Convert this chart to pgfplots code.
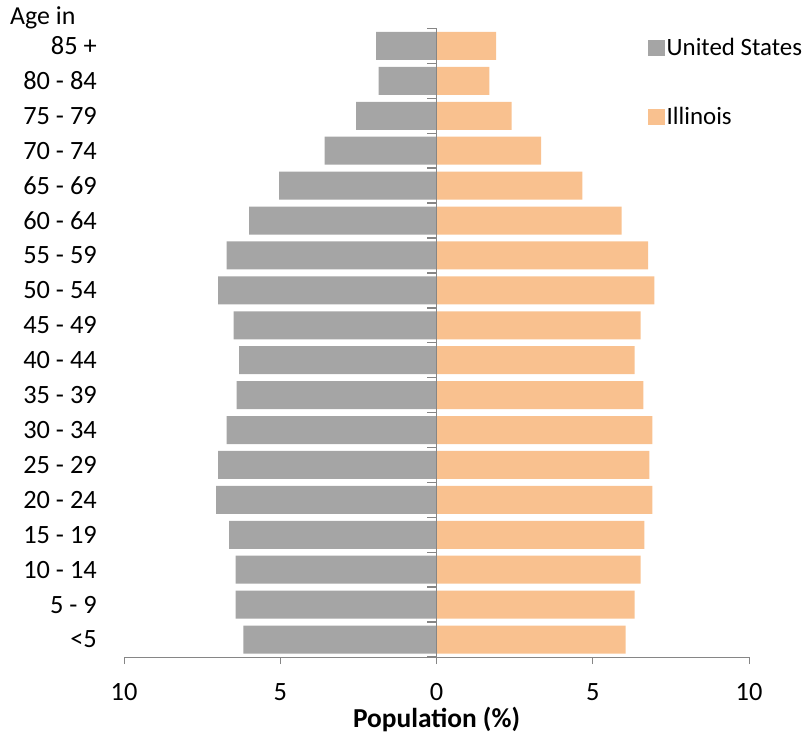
\documentclass[border=0pt]{standalone}
\usepackage{pgfplots}
\usepackage{pgfplotstable}
\pgfplotsset{compat=1.18}
\usepackage{fontspec}
\setmainfont{Carlito}
\definecolor{usgray}{HTML}{A5A5A5}
\definecolor{ilorange}{HTML}{F9C18F}
\definecolor{axgray}{HTML}{868686}
\pgfplotstableread{
y us il
0 -6.18 6.05
1 -6.43 6.34
2 -6.43 6.53
3 -6.64 6.65
4 -7.05 6.91
5 -6.99 6.81
6 -6.72 6.91
7 -6.40 6.62
8 -6.32 6.34
9 -6.49 6.53
10 -6.99 6.97
11 -6.72 6.77
12 -6.00 5.92
13 -5.04 4.67
14 -3.58 3.35
15 -2.57 2.40
16 -1.85 1.69
17 -1.93 1.91
}\datatable
\begin{document}
\begin{tikzpicture}
\path (0,0) rectangle (811bp,735bp);
\begin{axis}[
  at={(124bp,78bp)}, anchor=south west,
  scale only axis, width=625bp, height=628.5bp,
  xmin=-10, xmax=10, ymin=-0.5, ymax=17.5,
  axis x line*=bottom, axis y line*=left,
  axis line style={-},
  y axis line style={draw=none},
  x axis line style={draw=axgray, line width=1bp},
  xtick={-10,-5,0,5,10}, xticklabels={10,5,0,5,10},
  tick align=outside, major tick length=7bp,
  x tick style={draw=axgray, line width=1bp},
  y tick style={draw=none},
  ytick={0,...,17},
  yticklabels={<5, 5 - 9, 10 - 14, 15 - 19, 20 - 24, 25 - 29, 30 - 34, 35 - 39, 40 - 44, 45 - 49, 50 - 54, 55 - 59, 60 - 64, 65 - 69, 70 - 74, 75 - 79\hspace{4bp}, 80 - 84\hspace{9bp}, 85 +},
  /pgf/number format/assume math mode=true,
  ticklabel style={font=\fontsize{26.5}{30}\selectfont},
  yticklabel style={inner sep=0pt, anchor=east, xshift=-20bp},
  xticklabel style={inner sep=0pt, anchor=north, yshift=-19bp},
  xlabel={\bfseries Population (\%)},
  xlabel style={font=\fontsize{27.5}{32}\selectfont, at={(axis description cs:0.5,-0.1)}, anchor=center},
  legend style={at={(axis description cs:0.8336,0.99)}, anchor=north west, draw=none, fill=none,
    font=\fontsize{25}{30}\selectfont, row sep=47bp, nodes={inner sep=1.5bp}},
  legend cell align=left,
  clip=false,
]
\addplot[xbar, bar width=0.8, bar shift=0pt, fill=usgray, draw=none,
  legend image code/.code={\fill[usgray] (0bp,-8bp) rectangle (17bp,8bp);}]
  table[x=us, y=y] {\datatable};
\addlegendentry{United States}
\addplot[xbar, bar width=0.8, bar shift=0pt, fill=ilorange, draw=none,
  legend image code/.code={\fill[ilorange] (0bp,-8bp) rectangle (17bp,8bp);}]
  table[x=il, y=y] {\datatable};
\addlegendentry{Illinois}
% vertical category axis at x = 0 with boundary ticks
\addplot[forget plot, axgray, line width=1bp, mark=none] coordinates {(0,-0.5) (0,17.5)};
\addplot[forget plot, xcomb, draw=axgray, line width=1.4bp, mark=none] coordinates {
(-0.29,-0.5) (-0.29,0.5) (-0.29,1.5) (-0.29,2.5) (-0.29,3.5) (-0.29,4.5) (-0.29,5.5)
(-0.29,6.5) (-0.29,7.5) (-0.29,8.5) (-0.29,9.5) (-0.29,10.5) (-0.29,11.5) (-0.29,12.5)
(-0.29,13.5) (-0.29,14.5) (-0.29,15.5) (-0.29,16.5) (-0.29,17.5)};
\node[anchor=west, inner sep=0pt, font=\fontsize{26}{30}\selectfont] at (axis description cs:-0.1824,1.0167) {Age in};
\end{axis}
\end{tikzpicture}
\end{document}
